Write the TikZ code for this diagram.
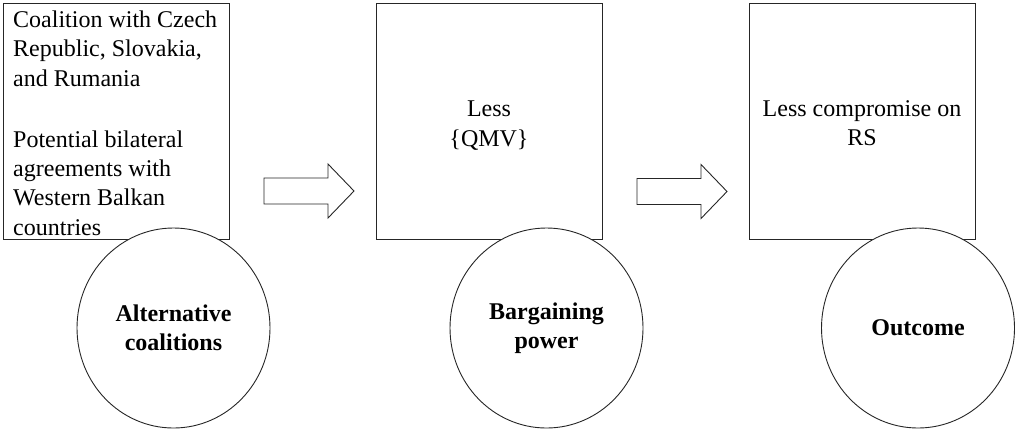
\documentclass[tikz,border=0pt]{standalone}
\usepackage{fontspec}
\setmainfont{Liberation Serif}
\usetikzlibrary{shapes.geometric}
\begin{document}
\begin{tikzpicture}[x=1pt,y=-1pt,
  outline/.style={draw=black!85, line width=0.9pt},
  panel/.style={outline, rectangle, minimum width=226pt, minimum height=236pt, inner sep=0pt},
  bubble/.style={outline, ellipse, fill=white, minimum width=193pt, minimum height=200pt,
    inner sep=0pt, align=center, font=\fontsize{24}{29.5}\selectfont\bfseries},
  body/.style={inner sep=0pt, font=\fontsize{24}{29.3}\selectfont},
  blockarrow/.pic={\draw[outline, line join=miter]
    (0,0) -- (0,-13) -- (64,-13) -- (64,-27) -- (90,0) -- (64,27) -- (64,13) -- (0,13) -- cycle;}]
\useasboundingbox (0,0) rectangle (1016,432);

% three stages: rectangles with their descriptions
\node[panel] (coalbox) at (116,121) {};
\node[panel] (powerbox) at (489,121) {};
\node[panel] (outbox) at (862,121) {};

\node[body, align=left, anchor=north west] (coaltext) at (13,10.6)
  {Coalition with Czech\\Republic, Slovakia,\\and Rumania\\[32pt]
   Potential bilateral\\agreements with\\Western Balkan\\countries};
\node[body, align=center, anchor=north] (powertext) at (489,101)
  {Less\\\{QMV\}};
\node[body, align=center, anchor=north] (outtext) at (862,100)
  {Less compromise on\\RS};

% block arrows between the stages
\pic (arrowA) at (264,191) {blockarrow};
\pic (arrowB) at (637,191.5) {blockarrow};

% stage labels in circles, drawn over the rectangles
\node[bubble] (coalcirc) at (173.5,328) {Alternative\\coalitions};
\node[bubble] (powercirc) at (546.5,328) {Bargaining\\power};
\node[bubble] (outcirc) at (918,328) {Outcome};
\end{tikzpicture}
\end{document}
